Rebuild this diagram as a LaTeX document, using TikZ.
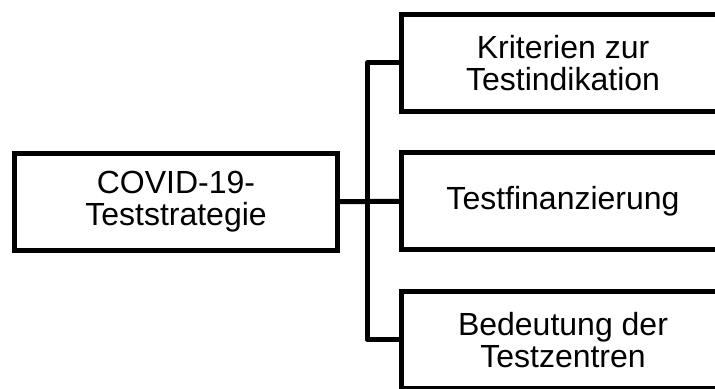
\documentclass[tikz,border=0pt]{standalone}
\usepackage{fontspec}
\setmainfont{Liberation Sans}
\begin{document}
\begin{tikzpicture}[x=0.75pt,y=-0.75pt,
  box/.style={draw=black,line width=3.75pt,fill=white,align=center,
    minimum width=242pt,minimum height=72.5pt,inner sep=0pt,
    font=\fontsize{24}{23.8}\selectfont},
  link/.style={draw=black,line width=3.75pt,line join=round,line cap=butt}]
\useasboundingbox (0,0) rectangle (715,389);
% main topic
\node[box] (main) at (176,201.75) {COVID-19-\\Teststrategie};
% sub topics
\node[box] (t1) at (563,62.75) {Kriterien zur\\Testindikation};
\node[box] (t2) at (563,201.25) {Testfinanzierung};
\node[box] (t3) at (563,339.75) {Bedeutung der\\Testzentren};
% bracket connectors
\draw[link] (t1.west) -- ++(-32,0) coordinate (trunk) |- (t3.west);
\draw[link] (main.east) -- (t2.west);
\end{tikzpicture}
\end{document}
